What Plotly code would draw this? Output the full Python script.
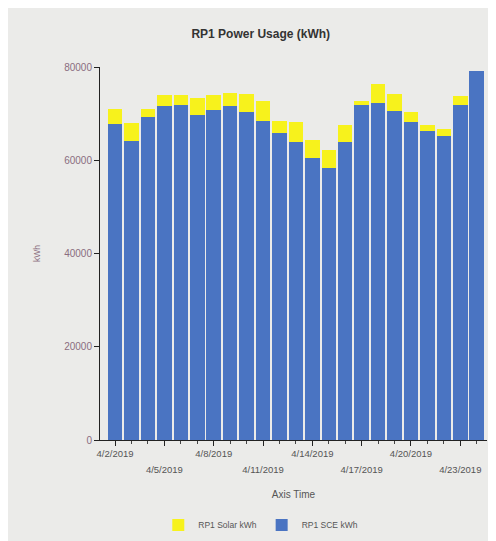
import plotly.graph_objects as go
import pandas as pd

dates = pd.date_range("2019-04-02", "2019-04-24", freq="D").strftime("%Y-%m-%d").tolist()
sce_kwh = [67800, 64200, 69300, 71600, 71800, 69800, 70700, 71600, 70300, 68500, 65800, 63900,
           60400, 58300, 64000, 71800, 72300, 70500, 68300, 66200, 65300, 71800, 79100]
total_kwh = [70900, 68000, 71100, 73900, 73900, 73300, 74100, 74500, 74300, 72800, 68500, 68100,
             64400, 62300, 67600, 72800, 76300, 74300, 70300, 67600, 66700, 73800, 79100]
solar_kwh = [t - s for t, s in zip(total_kwh, sce_kwh)]

tick_dates = ["2019-04-02", "2019-04-05", "2019-04-08", "2019-04-11",
              "2019-04-14", "2019-04-17", "2019-04-20", "2019-04-23"]
tick_labels = ["4/2/2019", "4/5/2019", "4/8/2019", "4/11/2019",
               "4/14/2019", "4/17/2019", "4/20/2019", "4/23/2019"]
y_ticks = [0, 20000, 40000, 60000, 80000]
y_tick_labels = ["0", "20000", "40000", "60000", "80000"]

blue = "#4a74c2"
yellow = "#f7f21c"
bg = "#ebebe9"
x_range = ["2019-04-01 02:00", "2019-04-24 15:00"]

fig = go.Figure()
fig.add_trace(go.Bar(x=dates, y=sce_kwh, name="RP1 SCE kWh", marker=dict(color=blue, line=dict(width=0))))
fig.add_trace(go.Bar(x=dates, y=solar_kwh, name="RP1 Solar kWh", marker=dict(color=yellow, line=dict(width=0))))
# invisible helper so the second (lower-row label) axis is drawn
fig.add_trace(go.Scatter(x=tick_dates[1::2], y=[0] * len(tick_dates[1::2]), xaxis="x2", mode="markers",
                         marker=dict(opacity=0), showlegend=False, hoverinfo="skip"))

fig.update_layout(
    width=488, height=533,
    barmode="stack", bargap=0.12,
    paper_bgcolor=bg, plot_bgcolor=bg,
    margin=dict(l=92, r=9, t=59, b=101, autoexpand=False),
    font=dict(family="Liberation Sans, Arial, sans-serif", size=9, color="#555555"),
    title=dict(text="<b>RP1 Power Usage (kWh)</b>", x=0.518, xanchor="center", y=0.951, yanchor="middle",
               font=dict(size=12, color="#333333")),
    legend=dict(orientation="h", xref="container", yref="container", x=0.518, xanchor="center",
                y=0.030, yanchor="middle", itemwidth=30,
                traceorder="reversed", font=dict(size=8.5, color="#555555")),
    xaxis=dict(
        type="date", range=x_range, automargin=False,
        tickmode="array", tickvals=tick_dates[0::2], ticktext=tick_labels[0::2],
        ticks="outside", ticklen=5, tickcolor="#222222", tickfont=dict(size=9.5, color="#555555"),
        minor=dict(dtick=86400000, ticks="outside", ticklen=3, tickcolor="#444444"),
        showline=True, linecolor="#222222", linewidth=1,
        showgrid=False,
        title=dict(text="Axis Time", font=dict(size=10, color="#555555"), standoff=32),
    ),
    xaxis2=dict(
        type="date", range=x_range, overlaying="x", side="bottom", anchor="y", automargin=False,
        tickmode="array", tickvals=tick_dates[1::2], ticktext=tick_labels[1::2],
        ticks="outside", ticklen=5, tickcolor="#222222", tickfont=dict(size=9.5, color="#555555"),
        ticklabelstandoff=16,
        showline=False, showgrid=False,
    ),
    yaxis=dict(
        range=[0, 80000], tickmode="array", tickvals=y_ticks, ticktext=y_tick_labels, automargin=False,
        ticks="outside", ticklen=5, tickcolor="#222222", tickfont=dict(size=10, color="#8a6d80"),
        showline=True, linecolor="#222222", linewidth=1,
        showgrid=False, zeroline=False,
        title=dict(text="kWh", font=dict(size=8.5, color="#8a6d80"), standoff=22),
    ),
)

fig.write_html("out.html")
